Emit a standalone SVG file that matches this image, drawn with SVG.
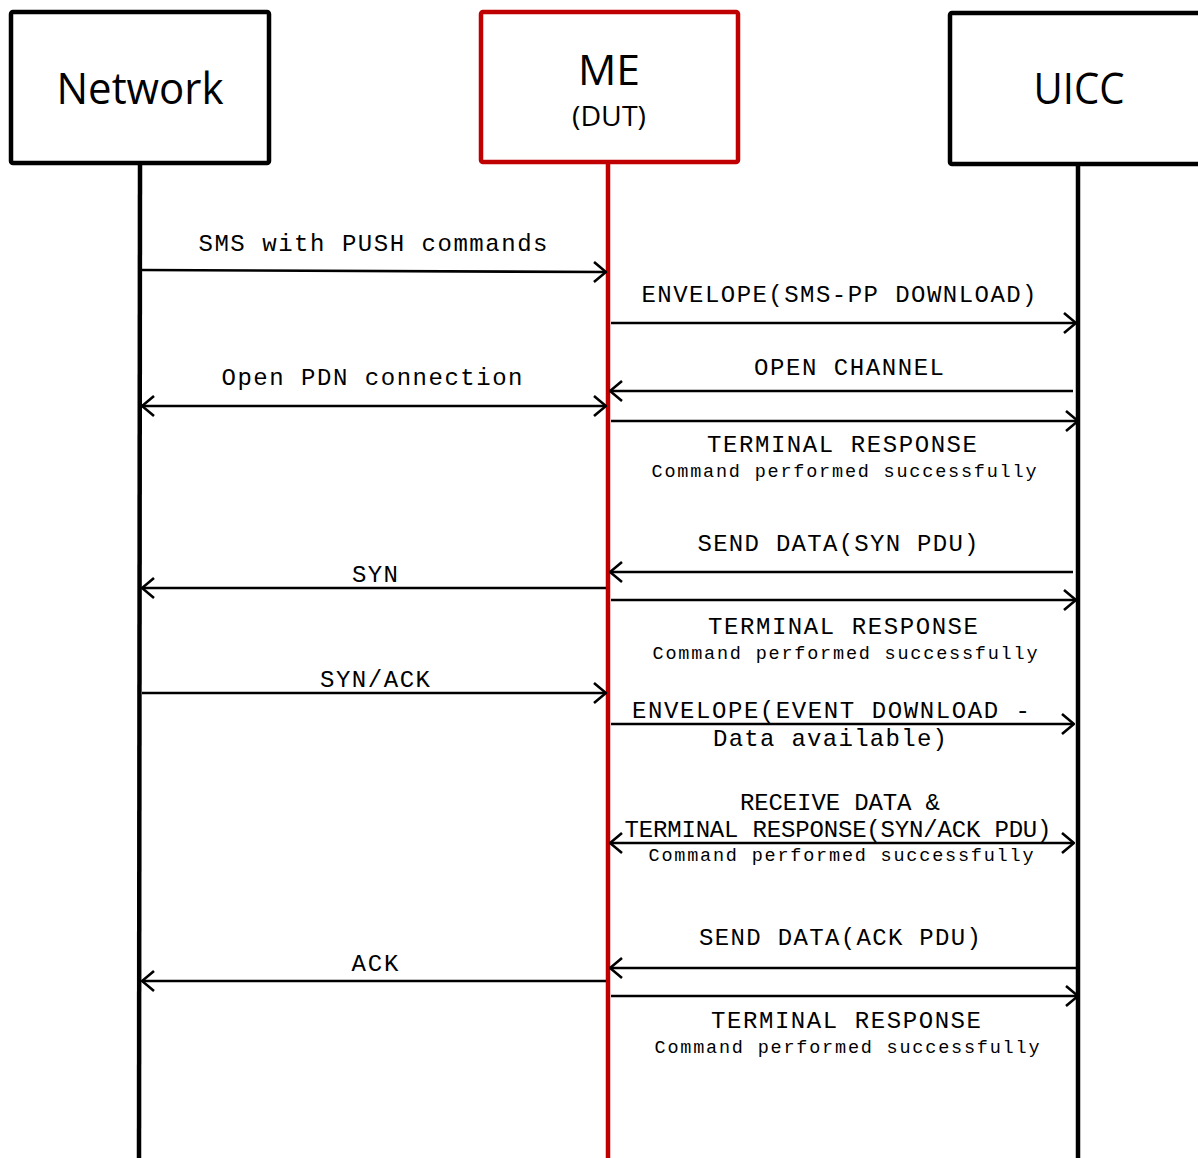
<svg xmlns="http://www.w3.org/2000/svg" width="1198" height="1158" viewBox="0 0 1198 1158">
<style>
.box{fill:#fff;stroke:#000;stroke-width:4.5}
.dut{stroke:#C00000}
.life{stroke:#000;stroke-width:4.5;fill:none}
.lifer{stroke:#C00000;stroke-width:4.5;fill:none}
.msg{stroke:#000;stroke-width:2.6;fill:none}
.title{font-family:"Open Sans","Liberation Sans",sans-serif;fill:#000;text-anchor:middle}
.lbl{font-family:"Liberation Mono","Courier New",monospace;font-size:24px;fill:#000;text-anchor:middle}
.sm{font-family:"Liberation Mono","Courier New",monospace;font-size:18.5px;fill:#000;text-anchor:middle}
</style>
<defs>
<marker id="ah" viewBox="0 0 14 22" refX="13" refY="11" markerWidth="14" markerHeight="22" markerUnits="userSpaceOnUse" orient="auto-start-reverse">
<path d="M1,1 L13,11 L1,21" fill="none" stroke="#000" stroke-width="2.6"/>
</marker>
</defs>
<rect width="1198" height="1158" fill="#fff"/>
<g id="lifelines">
<line class="life" x1="140" y1="163" x2="139" y2="1158"/>
<line class="lifer" x1="608" y1="162" x2="608" y2="1158"/>
<line class="life" x1="1078" y1="164" x2="1078" y2="1158"/>
</g>
<g id="network">
<rect class="box" x="11" y="12" width="258" height="151" rx="2"/>
<text class="title" x="140" y="104" font-size="44" textLength="167" lengthAdjust="spacingAndGlyphs">Network</text>
</g>
<g id="me">
<rect class="box dut" x="481" y="12" width="257" height="150" rx="2"/>
<text class="title" x="609" y="85" font-size="42" textLength="62" lengthAdjust="spacingAndGlyphs">ME</text>
<text class="title" x="609" y="126" font-size="27" textLength="74" lengthAdjust="spacingAndGlyphs">(DUT)</text>
</g>
<g id="uicc">
<rect class="box" x="950" y="13" width="300" height="151" rx="2"/>
<text class="title" x="1079" y="104" font-size="44" textLength="91" lengthAdjust="spacingAndGlyphs">UICC</text>
</g>
<g id="connectors">
<line class="msg" x1="142" y1="270" x2="606" y2="272" marker-end="url(#ah)"/>
<line class="msg" x1="611" y1="323" x2="1076" y2="323" marker-end="url(#ah)"/>
<line class="msg" x1="1073" y1="391" x2="610" y2="391" marker-end="url(#ah)"/>
<line class="msg" x1="142" y1="406" x2="606" y2="406" marker-start="url(#ah)" marker-end="url(#ah)"/>
<line class="msg" x1="611" y1="421" x2="1078" y2="421" marker-end="url(#ah)"/>
<line class="msg" x1="1073" y1="572" x2="610" y2="572" marker-end="url(#ah)"/>
<line class="msg" x1="606" y1="588" x2="142" y2="588" marker-end="url(#ah)"/>
<line class="msg" x1="611" y1="600" x2="1076" y2="600" marker-end="url(#ah)"/>
<line class="msg" x1="142" y1="693" x2="606" y2="693" marker-end="url(#ah)"/>
<line class="msg" x1="611" y1="724" x2="1074" y2="724" marker-end="url(#ah)"/>
<line class="msg" x1="610" y1="843" x2="1074" y2="843" marker-start="url(#ah)" marker-end="url(#ah)"/>
<line class="msg" x1="1076" y1="968" x2="610" y2="968" marker-end="url(#ah)"/>
<line class="msg" x1="606" y1="981" x2="142" y2="981" marker-end="url(#ah)"/>
<line class="msg" x1="611" y1="996" x2="1078" y2="996" marker-end="url(#ah)"/>
</g>
<g id="labels">
<text class="lbl" x="373" y="251" textLength="349">SMS with PUSH commands</text>
<text class="lbl" x="839" y="302" textLength="395">ENVELOPE(SMS-PP DOWNLOAD)</text>
<text class="lbl" x="849" y="375" textLength="190">OPEN CHANNEL</text>
<text class="lbl" x="372" y="385" textLength="301">Open PDN connection</text>
<text class="lbl" x="842" y="452" textLength="270">TERMINAL RESPONSE</text>
<text class="sm" x="844" y="477" textLength="385">Command performed successfully</text>
<text class="lbl" x="838" y="551" textLength="281">SEND DATA(SYN PDU)</text>
<text class="lbl" x="375" y="582" textLength="46">SYN</text>
<text class="lbl" x="843" y="634" textLength="270">TERMINAL RESPONSE</text>
<text class="sm" x="845" y="659" textLength="385">Command performed successfully</text>
<text class="lbl" x="375" y="687" textLength="110">SYN/ACK</text>
<text class="lbl" x="831" y="718" textLength="398">ENVELOPE(EVENT DOWNLOAD -</text>
<text class="lbl" x="830" y="746" textLength="234">Data available)</text>
<text class="lbl" x="840" y="810" textLength="200">RECEIVE DATA &amp;</text>
<text class="lbl" x="838" y="837" textLength="427">TERMINAL RESPONSE(SYN/ACK PDU)</text>
<text class="sm" x="841" y="861" textLength="385">Command performed successfully</text>
<text class="lbl" x="840" y="945" textLength="282">SEND DATA(ACK PDU)</text>
<text class="lbl" x="375" y="971" textLength="47">ACK</text>
<text class="lbl" x="846" y="1028" textLength="270">TERMINAL RESPONSE</text>
<text class="sm" x="847" y="1053" textLength="385">Command performed successfully</text>
</g>
</svg>
